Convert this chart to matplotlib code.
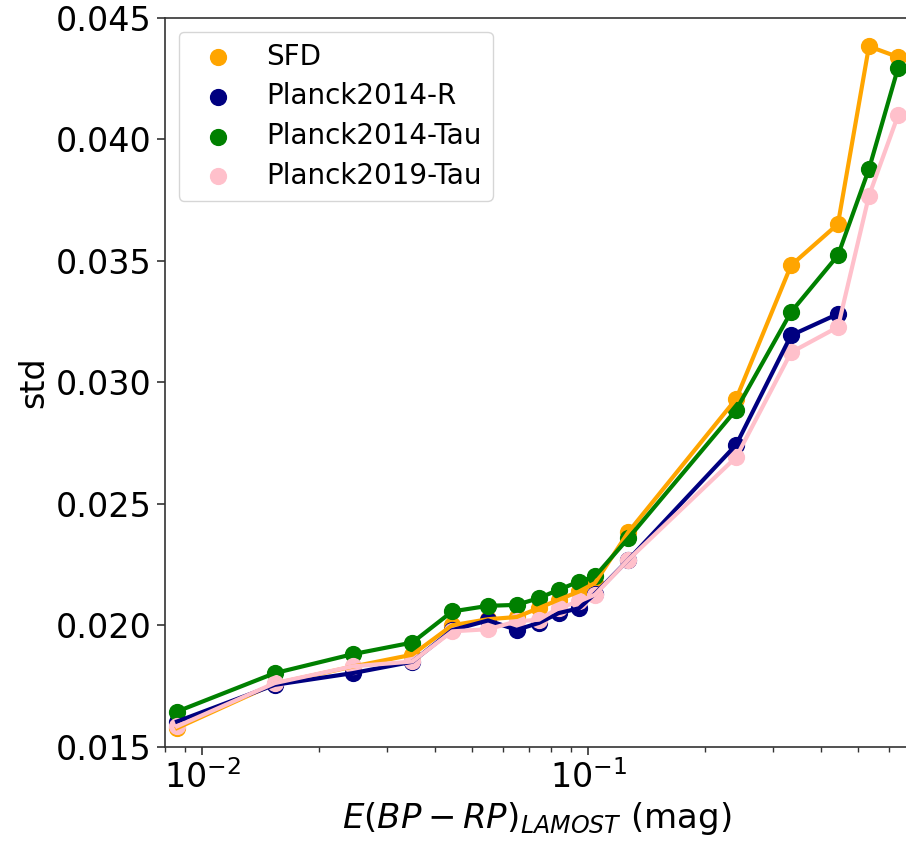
import matplotlib
matplotlib.use('Agg')
import matplotlib.pyplot as plt

# bin centres of E(BP-RP)
ebr = [0.0086, 0.0154, 0.0245, 0.035, 0.0444, 0.055, 0.0652, 0.0745, 0.0837,
       0.0946, 0.104, 0.127, 0.2415, 0.335, 0.443, 0.533, 0.634]

std_sfd = [0.01577, 0.0176, 0.0183, 0.01879, 0.0200, 0.02025, 0.02034, 0.02071,
           0.02105, 0.02139, 0.02174, 0.02384, 0.02932, 0.03481, 0.03651, 0.04382, 0.04338]
std_p14r = [0.01604, 0.01755, 0.01803, 0.0185, 0.0198, 0.0202, 0.01981, 0.0201,
            0.0205, 0.0207, 0.0213, 0.0227, 0.02743, 0.03193, 0.03281]
std_p14tau = [0.01645, 0.01803, 0.01881, 0.01929, 0.02057, 0.0208, 0.02084, 0.02112,
              0.02146, 0.0218, 0.02201, 0.02359, 0.02887, 0.03289, 0.03522, 0.03877, 0.04293]
std_p19tau = [0.01584, 0.01762, 0.01831, 0.01851, 0.01975, 0.01984, 0.02016, 0.02023,
              0.02071, 0.02098, 0.02126, 0.0227, 0.02692, 0.03123, 0.03227, 0.03767, 0.04098]

labels = ['SFD', 'Planck2014-R', 'Planck2014-Tau', 'Planck2019-Tau']
colors = ['orange', 'navy', 'green', 'pink']
series = [std_sfd, std_p14r, std_p14tau, std_p19tau]

fig = plt.figure(figsize=(9.06, 8.41), dpi=100)
ax = fig.add_axes([0.182, 0.112, 0.82, 0.867])

for y, c, lab in zip(series, colors, labels):
    x = ebr[:len(y)]
    ax.plot(x, y, color=c, lw=3)
    ax.scatter(x, y, color=c, s=130, label=lab)

ax.set_xscale('log')
ax.set_xlim(0.0080, 0.672)
ax.set_ylim(0.015, 0.045)
ax.set_yticks([0.015, 0.020, 0.025, 0.030, 0.035, 0.040, 0.045])
ax.set_yticklabels(['0.015', '0.020', '0.025', '0.030', '0.035', '0.040', '0.045'])

ax.tick_params(axis='both', which='major', labelsize=24, length=6, width=1.2, color='#333333')
ax.tick_params(axis='x', which='minor', length=3.5, width=1, color='#333333')
for sp in ax.spines.values():
    sp.set_color('#333333')
    sp.set_linewidth(1.2)

ax.set_xlabel(r'$E(BP-RP)_{LAMOST}$ (mag)', fontsize=24.5)
ax.set_ylabel('std', fontsize=24)

ax.legend(loc='upper left', fontsize=20, scatterpoints=1, handletextpad=0.75,
          labelspacing=0.42)

fig.savefig('out.png', dpi=100)
